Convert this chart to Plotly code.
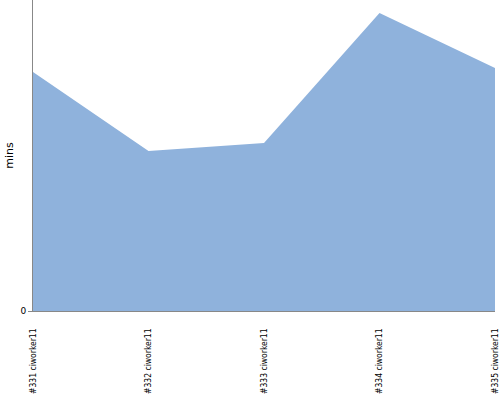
import plotly.graph_objects as go

categories = ["#331 ciworker11", "#332 ciworker11", "#333 ciworker11", "#334 ciworker11", "#335 ciworker11"]
mins = [239, 160, 168, 298, 243]
y_max = 311

fig = go.Figure()
fig.add_trace(go.Scatter(
    x=categories, y=mins, mode="lines", fill="tozeroy",
    line=dict(width=0, color="#8fb2dc"), fillcolor="#8fb2dc",
    hoverinfo="x+y",
))
fig.update_layout(
    width=500, height=400,
    margin=dict(l=33, r=5, t=0, b=89, autoexpand=False),
    paper_bgcolor="white", plot_bgcolor="white",
    showlegend=False,
    font=dict(family="DejaVu Sans", size=10, color="#000"),
)
fig.update_xaxes(
    type="category", range=[0, 4], automargin=False,
    showline=True, linecolor="#888", linewidth=1,
    showgrid=False, zeroline=False,
    tickangle=-90, tickfont=dict(size=8.5, family="DejaVu Sans Condensed"),
    ticks="outside", ticklen=13, tickcolor="rgba(0,0,0,0)",
    ticklabeloverflow="allow",
)
fig.update_yaxes(
    range=[0, y_max], automargin=False,
    showline=True, linecolor="#888", linewidth=1,
    showgrid=False, zeroline=False,
    tickvals=[0], ticktext=["0"], ticks="outside", ticklen=4, tickcolor="#888",
    tickfont=dict(size=9),
    title=dict(text="mins", font=dict(size=11), standoff=4),
)
fig.write_html("out.html", config={"displayModeBar": False},
               post_script="document.body.style.margin='0';")
